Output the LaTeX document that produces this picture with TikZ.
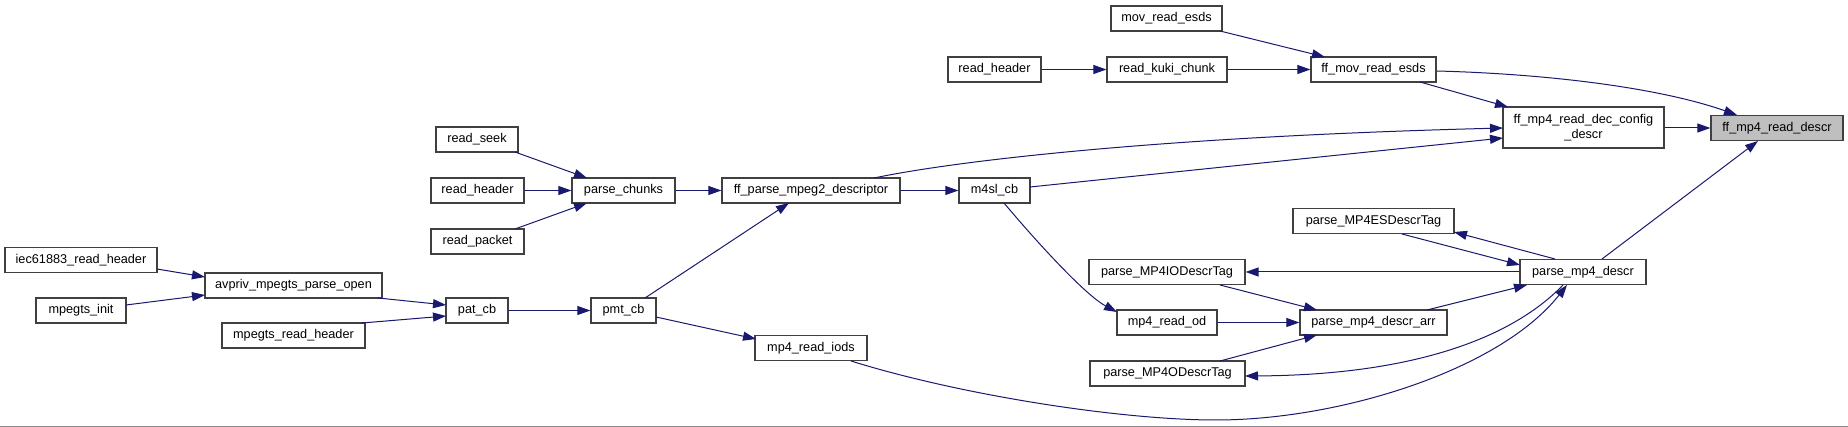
\documentclass[tikz,border=0pt]{standalone}
\usepackage{fontspec}
\setmainfont{Liberation Sans}
\usetikzlibrary{arrows.meta}
\definecolor{edgecol}{HTML}{191970}
\definecolor{boxcol}{HTML}{404040}
\definecolor{hlfill}{HTML}{BFBFBF}
\definecolor{rulecol}{HTML}{8C8C8C}
\begin{document}
\begin{tikzpicture}[x=1pt,y=-1pt,
  fn/.style={draw=boxcol, line width=1.2pt, fill=white, minimum height=25pt, inner sep=0pt, font=\fontsize{12.7}{15}\selectfont},
  call/.style={draw=edgecol, line width=1pt, -{Triangle[length=13pt,width=9pt]}}
]
\useasboundingbox (0,0) rectangle (1848,427);
\fill[white] (0,0) rectangle (1848,427);
\fill[rulecol] (0,426) rectangle (1848,427);

% nodes
\node[fn, minimum width=152pt] (iec) at (81,260) {iec61883\_read\_header};
\node[fn, minimum width=90pt] (init) at (81,310.5) {mpegts\_init};
\node[fn, minimum width=177pt] (avpriv) at (293.5,285.5) {avpriv\_mpegts\_parse\_open};
\node[fn, minimum width=143pt] (mrh) at (293.5,335.5) {mpegts\_read\_header};
\node[fn, minimum width=62pt] (pat) at (477,310.5) {pat\_cb};
\node[fn, minimum width=65pt] (pmt) at (623.5,310.5) {pmt\_cb};
\node[fn, minimum width=82pt] (seek) at (477,139.5) {read\_seek};
\node[fn, minimum width=93pt] (rhA) at (477.5,190.5) {read\_header};
\node[fn, minimum width=93pt] (rpk) at (477.5,241.5) {read\_packet};
\node[fn, minimum width=103pt] (pch) at (623.5,190.5) {parse\_chunks};
\node[fn, minimum width=178pt] (fpm) at (811,190.5) {ff\_parse\_mpeg2\_descriptor};
\node[fn, minimum width=112pt] (iods) at (811,348) {mp4\_read\_iods};
\node[fn, minimum width=71pt] (m4sl) at (994.5,190.5) {m4sl\_cb};
\node[fn, minimum width=93pt] (rhB) at (994.5,69.5) {read\_header};
\node[fn, minimum width=111pt] (mre) at (1166.5,18.5) {mov\_read\_esds};
\node[fn, minimum width=120pt] (kuki) at (1167,69.5) {read\_kuki\_chunk};
\node[fn, minimum width=125pt] (fmre) at (1373.5,69.5) {ff\_mov\_read\_esds};
\node[fn, minimum width=161pt, minimum height=41pt, align=center] (dcd) at (1583.5,127.5) {ff\_mp4\_read\_dec\_config\\\_descr};
\node[fn, fill=hlfill, minimum width=132pt] (frd) at (1777,128) {ff\_mp4\_read\_descr};
\node[fn, minimum width=156pt] (iod) at (1167,272) {parse\_MP4IODescrTag};
\node[fn, minimum width=100pt] (rod) at (1167,322.5) {mp4\_read\_od};
\node[fn, minimum width=155pt] (od) at (1167.5,373.5) {parse\_MP4ODescrTag};
\node[fn, minimum width=161pt] (es) at (1373.5,221) {parse\_MP4ESDescrTag};
\node[fn, minimum width=147pt] (arr) at (1373.5,322.5) {parse\_mp4\_descr\_arr};
\node[fn, minimum width=126pt] (pmd) at (1583,272) {parse\_mp4\_descr};

% edges
\draw[call] ([shift={(76,9)}]iec.center) -- ([shift={(-88.5,-8.5)}]avpriv.center);
\draw[call] ([shift={(45,-5.5)}]init.center) -- ([shift={(-88.5,9.5)}]avpriv.center);
\draw[call] ([shift={(84.5,12.5)}]avpriv.center) -- ([shift={(-31,-5.5)}]pat.center);
\draw[call] ([shift={(68.5,-12.5)}]mrh.center) -- ([shift={(-31,5.5)}]pat.center);
\draw[call] (pat.east) -- (pmt.west);
\draw[call] ([shift={(38,12.5)}]seek.center) -- ([shift={(-36.5,-12.5)}]pch.center);
\draw[call] (rhA.east) -- (pch.west);
\draw[call] ([shift={(37.5,-12.5)}]rpk.center) -- ([shift={(-36.5,12.5)}]pch.center);
\draw[call] (pch.east) -- (fpm.west);
\draw[call] (fpm.east) -- (m4sl.west);
\draw[call] ([shift={(21.5,-12.5)}]pmt.center) -- ([shift={(-22,12.5)}]fpm.center);
\draw[call] ([shift={(32.5,6.5)}]pmt.center) -- ([shift={(-55,-9)}]iods.center);
\draw[call] ([shift={(63,-12.5)}]fpm.center) .. controls (950,162) and (1150,137) .. ([shift={(-80.5,0.5)}]dcd.center);
\draw[call] ([shift={(35.5,-3.5)}]m4sl.center) -- ([shift={(-80.5,10.5)}]dcd.center);
\draw[call] (dcd.east |- frd.center) -- (frd.west);
\draw[call] ([shift={(63.5,1.5)}]fmre.center) .. controls (1550,74) and (1660,88) .. ([shift={(-40,-13)}]frd.center);
\draw[call] ([shift={(46.5,12.5)}]fmre.center) -- ([shift={(-75.5,-20.5)}]dcd.center);
\draw[call] ([shift={(53.5,12.5)}]mre.center) -- ([shift={(-48.5,-12.5)}]fmre.center);
\draw[call] (rhB.east) -- (kuki.west);
\draw[call] (kuki.east) -- (fmre.west);
\draw[call] ([shift={(19,-13)}]pmd.center) -- ([shift={(-19,13)}]frd.center);
\draw[call] ([shift={(-28,-13)}]pmd.center) -- ([shift={(80.5,11)}]es.center);
\draw[call] ([shift={(28.5,13)}]es.center) -- ([shift={(-63,-7)}]pmd.center);
\draw[call] (pmd.west) -- (iod.east);
\draw[call] ([shift={(53,13)}]iod.center) -- ([shift={(-56.5,-12.5)}]arr.center);
\draw[call] (rod.east) -- (arr.west);
\draw[call] ([shift={(52.5,-12.5)}]od.center) -- ([shift={(-56.5,12.5)}]arr.center);
\draw[call] ([shift={(53.5,-12.5)}]arr.center) -- ([shift={(-56,13)}]pmd.center);
\draw[call] ([shift={(-20,13)}]pmd.center) .. controls (1515,335) and (1420,375) .. ([shift={(77.5,2.5)}]od.center);
\coordinate (low) at (1216,420);
\draw[call] ([shift={(40,13)}]iods.center) .. controls (960,395) and (1120,420) .. (low) .. controls (1340,420) and (1500,370) .. ([shift={(-16,13)}]pmd.center);
\draw[call] ([shift={(9.5,12.5)}]m4sl.center) .. controls (1035,240) and (1085,295) .. ([shift={(-50,-10.5)}]rod.center);
\end{tikzpicture}
\end{document}
